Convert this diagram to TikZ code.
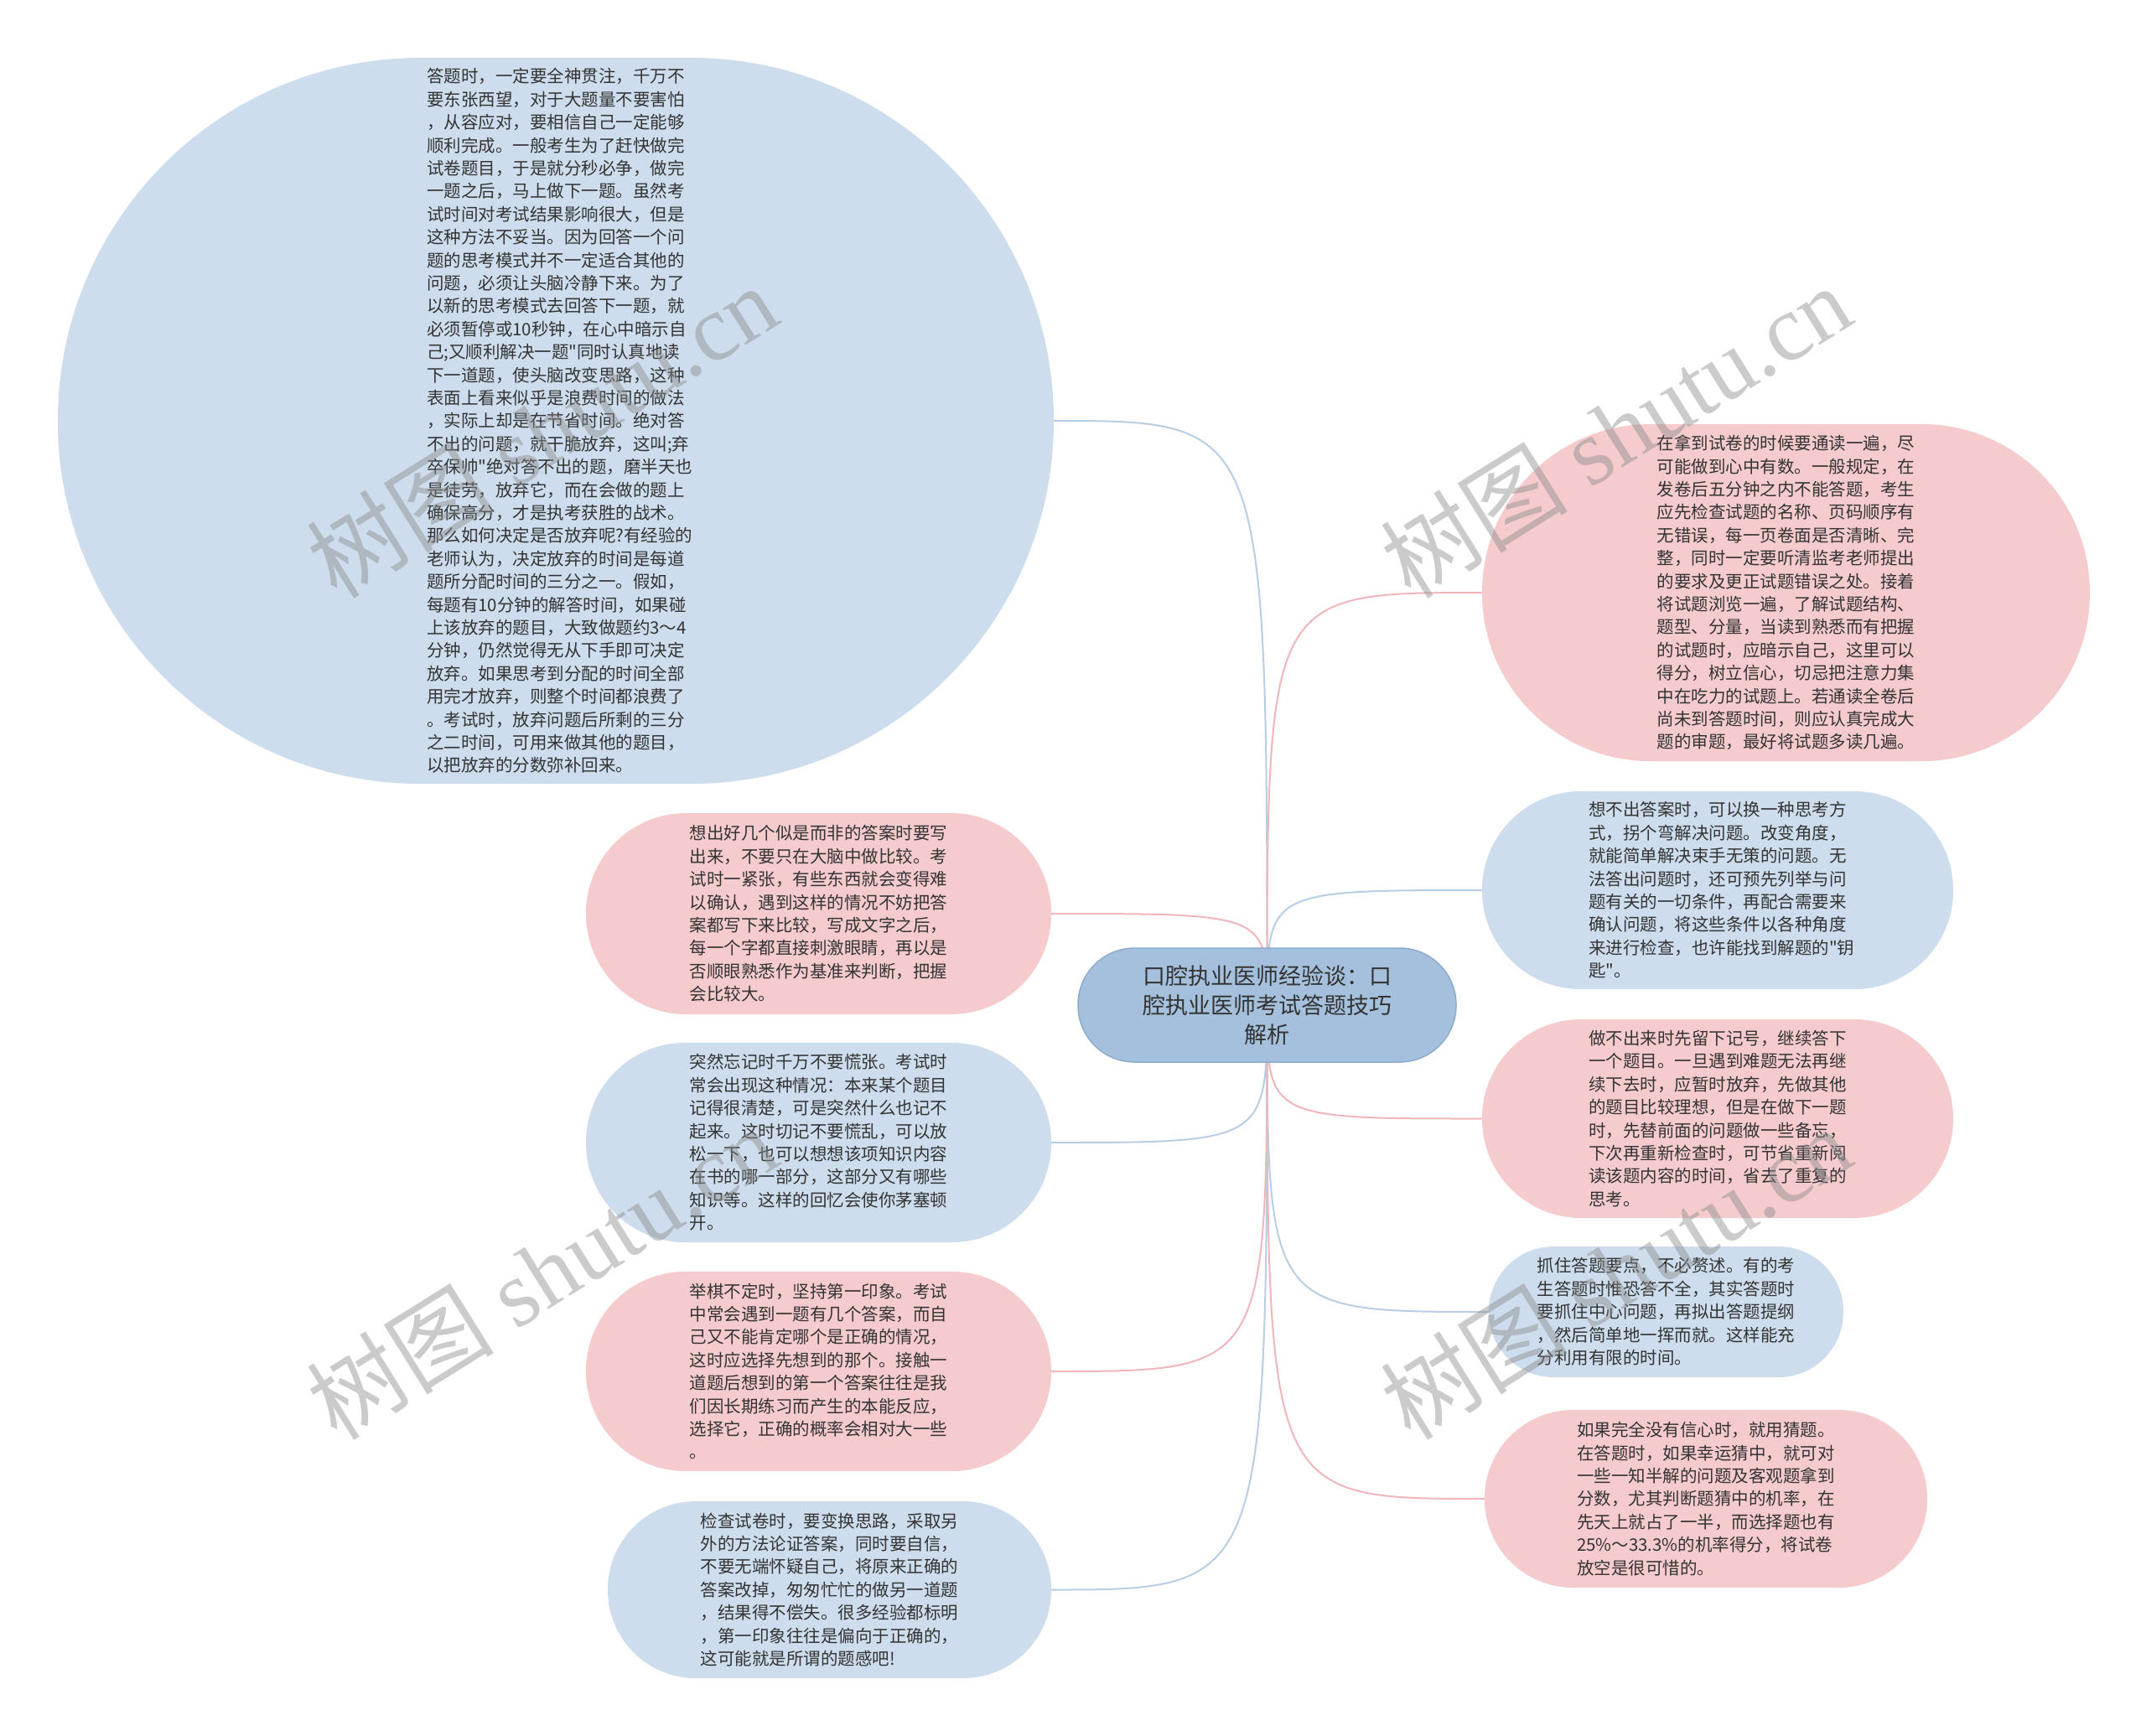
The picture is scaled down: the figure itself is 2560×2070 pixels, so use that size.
\documentclass[tikz,border=0pt]{standalone}
\usepackage{fontspec}
\newfontfamily\cjk{Noto Sans CJK SC}
\newfontfamily\wmserif{Liberation Serif}
\usetikzlibrary{calc}
\pgfdeclarelayer{back}
\pgfdeclarelayer{bg}
\pgfdeclarelayer{fg}
\pgfsetlayers{back,bg,main,fg}
\definecolor{leafblue}{RGB}{205,221,237}
\definecolor{leafpink}{RGB}{245,203,206}
\definecolor{rootfill}{RGB}{164,192,220}
\definecolor{rootline}{RGB}{140,172,204}
\definecolor{lineblue}{RGB}{184,206,228}
\definecolor{linepink}{RGB}{241,182,187}
\definecolor{txt}{RGB}{51,51,51}
\definecolor{wmgray}{RGB}{140,140,140}
\tikzset{
  leaf/.style={rectangle, inner sep=0pt, text width=308pt, align=left, text=txt,
    font=\cjk\fontsize{20.5}{27.4}\selectfont},
  blueleaf/.style={leaf, fill=leafblue},
  pinkleaf/.style={leaf, fill=leafpink},
  sz/.style n args={3}{minimum width=#1pt, minimum height=#2pt, rounded corners=#3pt},
  root/.style={rectangle, inner sep=0pt, text width=300pt, align=center, text=txt,
    fill=rootfill, draw=rootline, line width=1.5pt,
    font=\cjk\fontsize{27}{35}\selectfont},
  link/.style={line width=2pt},
  wm/.style={inner sep=0pt, text=wmgray, text opacity=0.45, rotate=32,
    font=\wmserif\fontsize{112}{112}\selectfont}
}
\begin{document}
\begin{tikzpicture}[x=1pt,y=-1pt]
\useasboundingbox (0,0) rectangle (2560,2070);
\begin{pgfonlayer}{back}
\fill[white] (0,0) rectangle (2560,2070);
\end{pgfonlayer}

\node[root, sz={451}{136}{67.5}] (c) at (1511.5,1199) {口腔执业医师经验谈：口\\腔执业医师考试答题技巧\\解析};

\node[blueleaf, sz={1188}{866}{432.5}] (e0) at (663,502) {答题时，一定要全神贯注，千万不\\要东张西望，对于大题量不要害怕\\，从容应对，要相信自己一定能够\\顺利完成。一般考生为了赶快做完\\试卷题目，于是就分秒必争，做完\\一题之后，马上做下一题。虽然考\\试时间对考试结果影响很大，但是\\这种方法不妥当。因为回答一个问\\题的思考模式并不一定适合其他的\\问题，必须让头脑冷静下来。为了\\以新的思考模式去回答下一题，就\\必须暂停或10秒钟，在心中暗示自\\己;又顺利解决一题"同时认真地读\\下一道题，使头脑改变思路，这种\\表面上看来似乎是浪费时间的做法\\，实际上却是在节省时间。绝对答\\不出的问题，就干脆放弃，这叫;弃\\卒保帅"绝对答不出的题，磨半天也\\是徒劳，放弃它，而在会做的题上\\确保高分，才是执考获胜的战术。\\那么如何决定是否放弃呢?有经验的\\老师认为，决定放弃的时间是每道\\题所分配时间的三分之一。假如，\\每题有10分钟的解答时间，如果碰\\上该放弃的题目，大致做题约3～4\\分钟，仍然觉得无从下手即可决定\\放弃。如果思考到分配的时间全部\\用完才放弃，则整个时间都浪费了\\。考试时，放弃问题后所剩的三分\\之二时间，可用来做其他的题目，\\以把放弃的分数弥补回来。};

\node[pinkleaf, sz={555}{240}{119.5}] (l1) at (976.5,1090) {想出好几个似是而非的答案时要写\\出来，不要只在大脑中做比较。考\\试时一紧张，有些东西就会变得难\\以确认，遇到这样的情况不妨把答\\案都写下来比较，写成文字之后，\\每一个字都直接刺激眼睛，再以是\\否顺眼熟悉作为基准来判断，把握\\会比较大。};

\node[blueleaf, sz={555}{238}{118.5}] (l2) at (976.5,1363) {突然忘记时千万不要慌张。考试时\\常会出现这种情况：本来某个题目\\记得很清楚，可是突然什么也记不\\起来。这时切记不要慌乱，可以放\\松一下，也可以想想该项知识内容\\在书的哪一部分，这部分又有哪些\\知识等。这样的回忆会使你茅塞顿\\开。};

\node[pinkleaf, sz={555}{238}{118.5}] (l3) at (976.5,1636) {举棋不定时，坚持第一印象。考试\\中常会遇到一题有几个答案，而自\\己又不能肯定哪个是正确的情况，\\这时应选择先想到的那个。接触一\\道题后想到的第一个答案往往是我\\们因长期练习而产生的本能反应，\\选择它，正确的概率会相对大一些\\。};

\node[blueleaf, sz={529}{211}{105}] (l4) at (989.5,1896.5) {检查试卷时，要变换思路，采取另\\外的方法论证答案，同时要自信，\\不要无端怀疑自己，将原来正确的\\答案改掉，匆匆忙忙的做另一道题\\，结果得不偿失。很多经验都标明\\，第一印象往往是偏向于正确的，\\这可能就是所谓的题感吧!};

\node[pinkleaf, sz={725}{402}{200.5}] (r1) at (2130.5,707) {在拿到试卷的时候要通读一遍，尽\\可能做到心中有数。一般规定，在\\发卷后五分钟之内不能答题，考生\\应先检查试题的名称、页码顺序有\\无错误，每一页卷面是否清晰、完\\整，同时一定要听清监考老师提出\\的要求及更正试题错误之处。接着\\将试题浏览一遍，了解试题结构、\\题型、分量，当读到熟悉而有把握\\的试题时，应暗示自己，这里可以\\得分，树立信心，切忌把注意力集\\中在吃力的试题上。若通读全卷后\\尚未到答题时间，则应认真完成大\\题的审题，最好将试题多读几遍。};

\node[blueleaf, sz={562}{236}{117.5}] (r2) at (2049,1062) {想不出答案时，可以换一种思考方\\式，拐个弯解决问题。改变角度，\\就能简单解决束手无策的问题。无\\法答出问题时，还可预先列举与问\\题有关的一切条件，再配合需要来\\确认问题，将这些条件以各种角度\\来进行检查，也许能找到解题的"钥\\匙"。};

\node[pinkleaf, sz={562}{237}{118}] (r3) at (2049,1334.5) {做不出来时先留下记号，继续答下\\一个题目。一旦遇到难题无法再继\\续下去时，应暂时放弃，先做其他\\的题目比较理想，但是在做下一题\\时，先替前面的问题做一些备忘，\\下次再重新检查时，可节省重新阅\\读该题内容的时间，省去了重复的\\思考。};

\node[blueleaf, sz={423}{156}{77.5}] (r4) at (1987.5,1565) {抓住答题要点，不必赘述。有的考\\生答题时惟恐答不全，其实答题时\\要抓住中心问题，再拟出答题提纲\\，然后简单地一挥而就。这样能充\\分利用有限的时间。};

\node[pinkleaf, sz={528}{212}{105.5}] (r5) at (2035,1788) {如果完全没有信心时，就用猜题。\\在答题时，如果幸运猜中，就可对\\一些一知半解的问题及客观题拿到\\分数，尤其判断题猜中的机率，在\\先天上就占了一半，而选择题也有\\25\%～33.3\%的机率得分，将试卷\\放空是很可惜的。};

\begin{pgfonlayer}{bg}
\draw[link, lineblue] (c.center) .. controls (c.center |- e0.east) .. (e0.east);
\draw[link, linepink] (c.center) .. controls (c.center |- l1.east) .. (l1.east);
\draw[link, lineblue] (c.center) .. controls (c.center |- l2.east) .. (l2.east);
\draw[link, linepink] (c.center) .. controls (c.center |- l3.east) .. (l3.east);
\draw[link, lineblue] (c.center) .. controls (c.center |- l4.east) .. (l4.east);
\draw[link, linepink] (c.center) .. controls (c.center |- r1.west) .. (r1.west);
\draw[link, lineblue] (c.center) .. controls (c.center |- r2.west) .. (r2.west);
\draw[link, linepink] (c.center) .. controls (c.center |- r3.west) .. (r3.west);
\draw[link, lineblue] (c.center) .. controls (c.center |- r4.west) .. (r4.west);
\draw[link, linepink] (c.center) .. controls (c.center |- r5.west) .. (r5.west);
\end{pgfonlayer}

\begin{pgfonlayer}{fg}
\node[wm] (wm1) at (646,514) {{\cjk 树图} shutu.cn};
\node[wm] (wm2) at (1927,514) {{\cjk 树图} shutu.cn};
\node[wm] (wm3) at (646,1518) {{\cjk 树图} shutu.cn};
\node[wm] (wm4) at (1927,1518) {{\cjk 树图} shutu.cn};
\end{pgfonlayer}
\end{tikzpicture}
\end{document}
